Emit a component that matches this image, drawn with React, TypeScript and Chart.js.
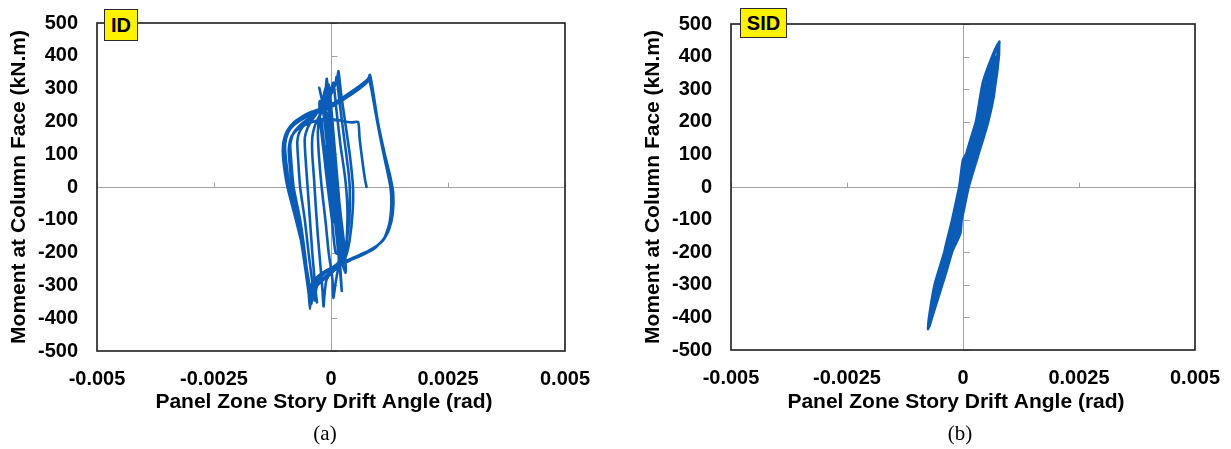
import React, { useEffect, useRef } from 'react';
import { Chart, registerables } from 'chart.js';

Chart.register(...registerables);

// Axis ticks and their printed labels
const driftTicks = [-0.005, -0.0025, 0, 0.0025, 0.005];
const driftTickLabels = ['-0.005', '-0.0025', '0', '0.0025', '0.005'];
const momentTicks = [-500, -400, -300, -200, -100, 0, 100, 200, 300, 400, 500];
const momentTickLabels = ['-500', '-400', '-300', '-200', '-100', '0', '100', '200', '300', '400', '500'];

const xTitle = 'Panel Zone Story Drift Angle (rad)';
const yTitle = 'Moment at Column Face (kN.m)';

// (a) ID specimen: panel zone drift (rad) vs. moment (kN.m), cyclic record
const idPath: [number, number][] = [
  [0.00001, 0], [-0.00008, 100], [-0.0001, 125], [-0.00001, 100], [0.00007, 0], [0.00015, -100], [0.00017, -125],
  [0.00005, -100], [-0.00003, 0], [-0.00012, 100], [-0.0002, 200], [-0.00017, 208],
  [-0.00007, 200], [0.00001, 100], [0.0001, 0], [0.00018, -100], [0.00026, -200], [0.00024, -208],
  [0.0001, -200], [0.00002, -100], [-0.00007, 0], [-0.00015, 100], [-0.00023, 200], [-0.00024, 262],
  [-0.00003, 200], [0.00005, 100], [0.00014, 0], [0.00022, -100], [0.0003, -200], [0.00031, -262],
  [0.00018, -200], [0.0001, -100], [0.00002, 0], [-0.00006, 100], [-0.00014, 200], [-0.0002, 270], [-0.00025, 302],
  [-0.00017, 250], [-0.00008, 150], [0.00001, 50], [0.00008, -50], [0.00014, -150], [0.0002, -250], [0.00023, -317],
  [0.00019, -250], [0.00012, -150], [0.00005, -50], [-0.00002, 50], [-0.00008, 150], [-0.00012, 250], [-0.00011, 300], [-0.00009, 330],
  [-0.00005, 260], [0.00001, 160], [0.00007, 60], [0.00013, -40], [0.00018, -140], [0.00016, -240], [0.0001, -290], [0.00005, -338],
  [0.00003, -280], [-0.00005, -200], [-0.00012, -100], [-0.0002, 0], [-0.00026, 100], [-0.00028, 170], [-0.00024, 215],
  [-0.00012, 255], [0.0, 285], [0.0001, 315], [0.00014, 338], [0.00016, 353],
  [0.00022, 280], [0.0003, 200], [0.0004, 100], [0.00047, 0], [0.00046, -80], [0.0004, -160], [0.00032, -210], [0.0002, -240],
  [0.0, -262], [-0.0001, -285], [-0.00014, -330], [-0.00016, -364],
  [-0.00018, -320], [-0.00022, -250], [-0.00028, -150], [-0.00033, -50], [-0.00036, 20], [-0.0004, 100], [-0.0004, 150],
  [-0.00035, 185], [-0.00022, 225], [-0.0001, 258], [0.00002, 288], [0.0001, 318], [0.00012, 336],
  [0.00019, 250], [0.00028, 150], [0.00037, 50], [0.0004, 0], [0.00039, -100], [0.0003, -190], [0.00015, -232],
  [-0.0001, -258], [-0.0003, -290], [-0.00033, -320], [-0.0003, -352],
  [-0.00034, -300], [-0.0004, -200], [-0.00045, -100], [-0.0005, 0], [-0.00055, 100], [-0.00056, 150], [-0.0005, 180],
  [-0.0004, 205], [-0.00025, 235], [-0.00012, 268], [-0.00005, 312],
  [0.0, 250], [0.00006, 150], [0.00012, 50], [0.00018, -50], [0.00023, -150], [0.00021, -222], [0.0001, -250],
  [-0.0001, -275], [-0.0003, -302], [-0.00035, -346],
  [-0.0004, -290], [-0.00048, -200], [-0.00056, -100], [-0.00066, 0], [-0.0007, 80], [-0.00072, 140], [-0.00066, 172],
  [-0.0005, 200], [-0.0003, 228], [-0.00018, 258], [-0.00014, 290], [-0.0001, 306],
  [-0.00005, 230], [0.00002, 130], [0.00008, 30], [0.00014, -70], [0.00019, -170], [0.00019, -228], [0.0, -265],
  [-0.0002, -286], [-0.0004, -312], [-0.00042, -356],
  [-0.00048, -300], [-0.00056, -200], [-0.00066, -100], [-0.0008, 0], [-0.00085, 80], [-0.00087, 130], [-0.0008, 165],
  [-0.0006, 196], [-0.0004, 216], [-0.00022, 240], [-0.00008, 272], [0.0, 296], [0.00005, 318],
  [0.00012, 230], [0.0002, 130], [0.0003, 30], [0.00035, -60], [0.00034, -150], [0.0003, -210], [0.0001, -245],
  [-0.0001, -270], [-0.0003, -296], [-0.00041, -322], [-0.00045, -366],
  [-0.00048, -320], [-0.0006, -200], [-0.00072, -100], [-0.00088, 0], [-0.00096, 80], [-0.00098, 130], [-0.00092, 165],
  [-0.0008, 188], [-0.0006, 208], [-0.0004, 222], [-0.0002, 232], [0.0, 244], [0.0002, 260], [0.0004, 279],
  [0.0006, 299], [0.00077, 320], [0.0008, 332],
  [0.00086, 300], [0.00096, 220], [0.00108, 130], [0.0012, 50], [0.00127, 0], [0.00129, -50], [0.00125, -110],
  [0.00114, -155], [0.00095, -185], [0.0007, -205], [0.0004, -224], [0.0001, -244], [-0.0002, -268],
  [-0.00036, -290], [-0.0004, -320], [-0.00041, -350],
  [-0.00046, -300], [-0.00058, -200], [-0.00075, -100], [-0.00093, 0], [-0.001, 60], [-0.00103, 110], [-0.00101, 142],
  [-0.00094, 170], [-0.0008, 196], [-0.0006, 216], [-0.0004, 230], [-0.0002, 240], [0.0, 252], [0.0002, 268],
  [0.0004, 287], [0.0006, 307], [0.0008, 330], [0.00083, 342],
  [0.00089, 300], [0.001, 200], [0.00115, 100], [0.00127, 30], [0.00133, -20], [0.00132, -80], [0.00124, -130],
  [0.0011, -165], [0.0008, -195], [0.0005, -214], [0.0002, -234], [-0.0001, -254], [-0.0003, -275],
  [-0.00042, -300], [-0.00045, -372],
  [-0.00049, -300], [-0.0006, -200], [-0.00071, -100], [-0.00083, 0], [-0.00089, 80], [-0.0009, 120], [-0.00084, 155],
  [-0.0007, 178], [-0.0005, 193], [-0.0003, 203], [-0.0001, 208], [0.0001, 205], [0.0003, 200], [0.00045, 197],
  [0.00058, 198], [0.00061, 150], [0.00067, 80], [0.00073, 20], [0.00076, 0],
];

// (b) SID specimen: panel zone drift (rad) vs. moment (kN.m), cyclic record
const sidPath: [number, number][] = [
  [0.00002, 0], [0.00015, 100], [0.00029, 152],
  [0.00025, 100], [0.00006, 0], [-0.00009, -100], [-0.00023, -152],
  [-0.00022, -100], [-0.00007, 0], [0.00008, 100], [0.00029, 200], [0.00047, 252],
  [0.00051, 200], [0.0003, 100], [0.0001, 0], [-0.00005, -100], [-0.00026, -200], [-0.00043, -252],
  [-0.0004, -200], [-0.00023, -100], [-0.00008, 0], [0.00007, 100], [0.00028, 200], [0.00044, 300], [0.0006, 332],
  [0.00068, 300], [0.00054, 200], [0.00033, 100], [0.00012, 0], [-0.00003, -100], [-0.00024, -200], [-0.00045, -300], [-0.00056, -322],
  [-0.00055, -300], [-0.00034, -200], [-0.00016, -100], [-0.00001, 0], [0.00016, 100], [0.00037, 200], [0.00052, 300], [0.00067, 380],
  [0.0006, 300], [0.00045, 200], [0.00024, 100], [0.00005, 0], [-0.0001, -100], [-0.0003, -200], [-0.0005, -300], [-0.00065, -372],
  [-0.00059, -300], [-0.00038, -200], [-0.00021, -100], [-0.00006, 0], [0.0001, 100], [0.00031, 200], [0.00046, 300], [0.00064, 400], [0.00074, 422],
  [0.00076, 400], [0.00067, 300], [0.00053, 200], [0.00032, 100], [0.00011, 0], [-0.00004, -100], [-0.00025, -200], [-0.00046, -300], [-0.00067, -400], [-0.00072, -412],
  [-0.00072, -400], [-0.00058, -300], [-0.00037, -200], [-0.00019, -100], [-0.00004, 0], [0.00012, 100], [0.00033, 200], [0.00049, 300], [0.00066, 400], [0.00078, 446],
  [0.00074, 400], [0.00063, 300], [0.00049, 200], [0.00028, 100], [0.00008, 0], [-0.00007, -100], [-0.00027, -200], [-0.00048, -300], [-0.00068, -400], [-0.00075, -436],
  [-0.00073, -400], [-0.00061, -300], [-0.0004, -200], [-0.00023, -100], [-0.00008, 0], [0.0, 83], [0.00007, 100], [0.00028, 200], [0.00043, 320], [0.00063, 400], [0.00077, 442],
  [0.00077, 400], [0.00068, 300], [0.00054, 200], [0.00033, 100], [0.00012, 0], [-0.00003, -100], [-0.00006, -142], [-0.00024, -200], [-0.00045, -300], [-0.00067, -400], [-0.00073, -428],
  [-0.00053, -300], [-0.00032, -200], [-0.00013, -100], [0.00002, 0], [0.0002, 100], [0.00041, 200], [0.00056, 300], [0.0007, 400],
  [0.00064, 300], [0.0005, 200], [0.00029, 100], [0.00009, 0], [0.00005, -30],
];

const FONT = "'Liberation Sans', Arial, Helvetica, sans-serif";
const LINE_BLUE = '#0b5cb6';
const AXIS_GRAY = '#a3a3a3';

// Frame, zero-axis tick marks and the bottom axis title
const panelDecor = {
  id: 'panelDecor',
  beforeDatasetsDraw(chart: any) {
    const { ctx, scales } = chart;
    const x = scales.x;
    const y = scales.y;
    const x0 = Math.round(x.getPixelForValue(0)) + 0.5;
    const y0 = Math.round(y.getPixelForValue(0)) + 0.5;
    ctx.save();
    ctx.strokeStyle = AXIS_GRAY;
    ctx.lineWidth = 1;
    ctx.beginPath();
    for (const v of driftTicks) {
      if (v === 0) continue;
      const px = Math.round(x.getPixelForValue(v)) + 0.5;
      ctx.moveTo(px, y0);
      ctx.lineTo(px, y0 - 5);
    }
    for (const v of momentTicks) {
      if (v === 0) continue;
      const py = Math.round(y.getPixelForValue(v)) + 0.5;
      ctx.moveTo(x0, py);
      ctx.lineTo(x0 + 6, py);
    }
    ctx.stroke();
    ctx.restore();
  },
  afterDraw(chart: any, _args: any, opts: any) {
    const { ctx, chartArea: a } = chart;
    ctx.save();
    ctx.strokeStyle = '#1c1c1c';
    ctx.lineWidth = 1.6;
    ctx.strokeRect(a.left, a.top, a.right - a.left, a.bottom - a.top);
    ctx.fillStyle = '#000';
    ctx.font = `bold 21px ${FONT}`;
    ctx.textAlign = 'center';
    ctx.textBaseline = 'middle';
    ctx.fillText(xTitle, (a.left + a.right) / 2 + (opts.titleShift || 0), opts.titleY);
    ctx.restore();
  },
};

type PanelProps = {
  path: [number, number][];
  left: number;
  width: number;
  yAxisWidth: number;
  yTitlePad: number;
  lineWidth: number;
  padding: { left: number; right: number; top: number; bottom: number };
};

function Panel({ path, left, width, yAxisWidth, yTitlePad, lineWidth, padding }: PanelProps) {
  const ref = useRef<HTMLCanvasElement | null>(null);

  useEffect(() => {
    if (!ref.current) return;
    const tickFont = { family: FONT, size: 20, weight: 'bold' as const };
    const zeroOnly = (c: any) => (c.tick && c.tick.value === 0 ? AXIS_GRAY : 'rgba(0,0,0,0)');
    const chart = new Chart(ref.current, {
      type: 'scatter',
      data: {
        datasets: [
          {
            data: path.map(([x, y]) => ({ x, y })),
            showLine: true,
            borderColor: LINE_BLUE,
            borderWidth: lineWidth,
            pointRadius: 0,
            tension: 0.2,
            borderJoinStyle: 'round',
            borderCapStyle: 'round',
          },
        ],
      },
      options: {
        responsive: false,
        animation: false,
        events: [],
        layout: { padding },
        plugins: {
          legend: { display: false },
          tooltip: { enabled: false },
          panelDecor: { titleY: 402, titleShift: -7 },
        },
        scales: {
          x: {
            type: 'linear',
            min: -0.005,
            max: 0.005,
            afterBuildTicks: (s: any) => {
              s.ticks = driftTicks.map((value) => ({ value }));
            },
            afterFit: (s: any) => {
              s.height = 70;
              s.paddingLeft = 0;
              s.paddingRight = 0;
            },
            grid: { color: zeroOnly, lineWidth: 1, drawTicks: false },
            border: { display: false },
            ticks: {
              padding: 16,
              color: '#000',
              font: tickFont,
              maxRotation: 0,
              autoSkip: false,
              callback: (_v: any, i: number) => driftTickLabels[i],
            },
          },
          y: {
            type: 'linear',
            min: -500,
            max: 500,
            afterBuildTicks: (s: any) => {
              s.ticks = momentTicks.map((value) => ({ value }));
            },
            afterFit: (s: any) => {
              s.width = yAxisWidth;
              s.paddingTop = 0;
              s.paddingBottom = 0;
            },
            grid: { color: zeroOnly, lineWidth: 1, drawTicks: false },
            border: { display: false },
            ticks: {
              padding: 19,
              color: '#000',
              font: tickFont,
              autoSkip: false,
              callback: (_v: any, i: number) => momentTickLabels[i],
            },
            title: {
              display: true,
              text: yTitle,
              color: '#000',
              font: { family: FONT, size: 21, weight: 'bold' as const },
              padding: { top: yTitlePad, bottom: 0 },
            },
          },
        },
      },
      plugins: [panelDecor],
    } as any);
    return () => chart.destroy();
  }, [path, yAxisWidth, yTitlePad, lineWidth, padding]);

  return (
    <canvas
      ref={ref}
      width={width}
      height={449}
      style={{ position: 'absolute', left, top: 0, width, height: 449 }}
    />
  );
}

const padA = { left: 0, right: 50, top: 23, bottom: 28 };
const padB = { left: 0, right: 36, top: 24, bottom: 29 };

const tagStyle: React.CSSProperties = {
  position: 'absolute',
  boxSizing: 'border-box',
  background: '#fff200',
  border: '1.5px solid #2a2a2a',
  fontFamily: FONT,
  fontWeight: 'bold',
  fontSize: 20,
  color: '#000',
  display: 'flex',
  alignItems: 'center',
  justifyContent: 'center',
};

const captionStyle: React.CSSProperties = {
  position: 'absolute',
  width: 60,
  textAlign: 'center',
  fontFamily: "'Liberation Serif', 'Times New Roman', serif",
  fontSize: 21,
  lineHeight: '24px',
  color: '#000',
};

export default function App() {
  return (
    <div style={{ position: 'absolute', left: 0, top: 0, width: 1231, height: 449, background: '#fff', overflow: 'hidden' }}>
      <Panel path={idPath} left={0} width={615} yAxisWidth={97} yTitlePad={7} lineWidth={2.6} padding={padA} />
      <Panel path={sidPath} left={615} width={616} yAxisWidth={116} yTitlePad={26} lineWidth={2.8} padding={padB} />
      <div style={{ ...tagStyle, left: 104, top: 9, width: 34, height: 32 }}>ID</div>
      <div style={{ ...tagStyle, left: 740, top: 8, width: 47, height: 30 }}>SID</div>
      <div style={{ ...captionStyle, left: 295, top: 421 }}>(a)</div>
      <div style={{ ...captionStyle, left: 930, top: 421 }}>(b)</div>
    </div>
  );
}
